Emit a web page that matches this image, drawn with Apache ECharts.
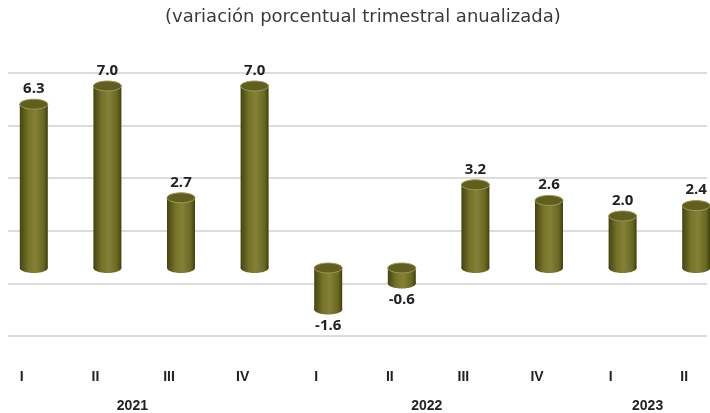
<!DOCTYPE html>
<html>
<head>
<meta charset="utf-8">
<script src="https://cdn.jsdelivr.net/npm/echarts@6/dist/echarts.min.js"></script>
<style>
  html, body { margin: 0; padding: 0; background: #fff; overflow: hidden; }
  /* el area de barras sobresale del marco, como en el original */
  #chart { width: 736px; height: 413px; margin-left: -3px; }
</style>
</head>
<body>
<div id="chart"></div>
<script>
// datos: PIB, variacion porcentual trimestral anualizada
var quarters = ['I', 'II', 'III', 'IV', 'I', 'II', 'III', 'IV', 'I', 'II'];
var yearOf   = ['2021', '2021', '2021', '2021', '2022', '2022', '2022', '2022', '2023', '2023'];
var values   = [6.3, 7.0, 2.7, 7.0, -1.6, -0.6, 3.2, 2.6, 2.0, 2.4];
// indice donde se escribe el año (centrado sobre su grupo)
var yearLabelAt = [1, 5, 8];

var myChart = echarts.init(document.getElementById('chart'));

function cylinder(params, api) {
    var i = api.value(0);
    var v = api.value(1);
    var base = api.coord([i, 0]);
    var end = api.coord([i, v]);
    var w = 28, ry = 5;
    var cx = base[0];
    var x = cx - w / 2;
    var yTop = Math.min(base[1], end[1]);
    var yBot = Math.max(base[1], end[1]);
    var body = new echarts.graphic.LinearGradient(0, 0, 1, 0, [
        { offset: 0, color: '#45440f' },
        { offset: 0.3, color: '#74732a' },
        { offset: 0.55, color: '#828136' },
        { offset: 0.85, color: '#696822' },
        { offset: 1, color: '#403f0e' }
    ]);
    var label = v.toFixed(1);
    return {
        type: 'group',
        children: [
            {
                type: 'ellipse',
                shape: { cx: cx, cy: yBot, rx: w / 2, ry: ry },
                style: { fill: body }
            },
            {
                type: 'rect',
                shape: { x: x, y: yTop, width: w, height: yBot - yTop },
                style: { fill: body }
            },
            {
                type: 'ellipse',
                shape: { cx: cx, cy: yTop, rx: w / 2, ry: ry },
                style: { fill: '#605f1f', stroke: '#9c9b55', lineWidth: 1 }
            },
            {
                type: 'text',
                x: cx,
                y: v >= 0 ? yTop - ry - 3 : yBot + ry + 4,
                style: {
                    text: label,
                    fill: '#222',
                    font: 'bold 15px "Open Sans", sans-serif',
                    align: 'center',
                    verticalAlign: v >= 0 ? 'bottom' : 'top'
                }
            }
        ]
    };
}

var option = {
    animation: false,
    title: {
        text: '(variación porcentual trimestral anualizada)',
        left: 163,
        top: 3,
        textStyle: {
            color: '#3a3a3a',
            fontFamily: 'DejaVu Sans',
            fontWeight: 'normal',
            fontSize: 18
        }
    },
    grid: [
        { left: 0, right: 0, top: 73, bottom: 77 },
        { left: 11, right: 26, top: 73, bottom: 77 }
    ],
    xAxis: [
        {
            type: 'category',
            gridIndex: 0,
            data: quarters,
            axisLine: { show: false },
            axisTick: { show: false },
            axisLabel: {
                interval: 0,
                margin: 37,
                color: '#222',
                fontFamily: '"Liberation Sans Narrow", "Liberation Sans", sans-serif',
                fontWeight: 'bold',
                fontSize: 14,
                padding: [0, 24, 0, 0]
            }
        },
        {
            type: 'category',
            gridIndex: 0,
            data: yearOf,
            position: 'bottom',
            axisLine: { show: false },
            axisTick: { show: false },
            axisLabel: {
                interval: 0,
                margin: 66,
                color: '#222',
                fontFamily: '"Liberation Sans Narrow", "Liberation Sans", sans-serif',
                fontWeight: 'bold',
                fontSize: 14,
                padding: [0, 0, 0, 50],
                formatter: function (val, idx) {
                    return yearLabelAt.indexOf(idx) >= 0 ? val : '';
                }
            }
        },
        {
            type: 'value',
            gridIndex: 1,
            min: 0,
            max: 1,
            show: false
        }
    ],
    yAxis: [
        {
            type: 'value',
            gridIndex: 0,
            min: -2.5,
            max: 7.5,
            show: false,
            splitLine: { show: false }
        },
        {
            type: 'value',
            gridIndex: 1,
            min: -2,
            max: 8,
            interval: 2,
            axisLine: { show: false },
            axisTick: { show: false },
            axisLabel: { show: false },
            splitLine: { lineStyle: { color: '#dcdcdc', width: 2 } }
        }
    ],
    series: [
        {
            type: 'custom',
            xAxisIndex: 0,
            yAxisIndex: 0,
            renderItem: cylinder,
            encode: { x: 0, y: 1 },
            data: values.map(function (v, i) { return [i, v]; }),
            z: 5
        }
    ]
};

myChart.setOption(option);
</script>
</body>
</html>
